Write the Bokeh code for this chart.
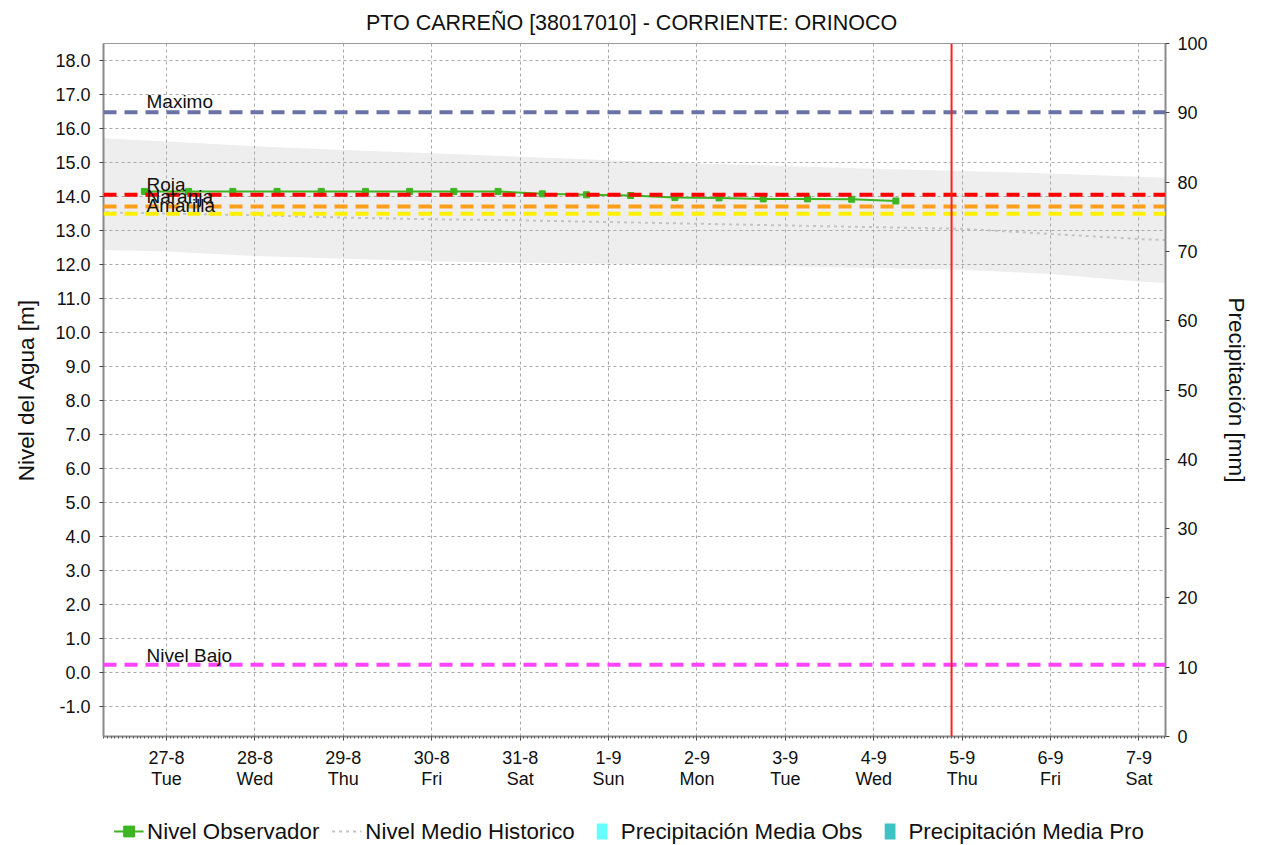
import math
from bokeh.plotting import figure
from bokeh.layouts import column
from bokeh.models import (Range1d, LinearAxis, FixedTicker, Span, Legend, LegendItem,
                          ColumnDataSource, NumeralTickFormatter, Label, Grid)
from bokeh.embed import file_html
from bokeh.resources import INLINE

TITULO = "PTO CARREÑO  [38017010] - CORRIENTE: ORINOCO"
FECHAS = ["27-8", "28-8", "29-8", "30-8", "31-8", "1-9", "2-9", "3-9", "4-9", "5-9", "6-9", "7-9"]
DIAS_SEMANA = ["Tue", "Wed", "Thu", "Fri", "Sat", "Sun", "Mon", "Tue", "Wed", "Thu", "Fri", "Sat"]

# time in days since 27-8 00:00
OBS_DIA = [-0.25, 0.25, 0.75, 1.25, 1.75, 2.25, 2.75, 3.25, 3.75, 4.25, 4.75, 5.25,
           5.75, 6.25, 6.75, 7.25, 7.75, 8.25]
OBS_NIVEL = [14.15, 14.15, 14.15, 14.15, 14.15, 14.15, 14.15, 14.15, 14.15, 14.08, 14.05, 14.03,
             13.97, 13.96, 13.93, 13.93, 13.92, 13.87]

HIST_DIA = [-1, 0, 1, 2, 3, 4, 5, 6, 7, 8, 9, 10, 11, 12]
HIST_MAX = [15.75, 15.62, 15.48, 15.37, 15.27, 15.17, 15.07, 14.97, 14.9, 14.82, 14.75, 14.68, 14.58, 14.5]
HIST_MIN = [12.45, 12.38, 12.25, 12.17, 12.1, 12.05, 12.02, 11.98, 11.95, 11.9, 11.85, 11.72, 11.5, 11.35]
HIST_MEDIO = [13.55, 13.5, 13.45, 13.38, 13.33, 13.3, 13.25, 13.2, 13.15, 13.1, 13.05, 12.9, 12.75, 12.65]

PRECIP_DIA = []
PRECIP_OBS = []
PRECIP_PRO = []

UMBRAL_NOMBRES = ["Maximo", "Roja", "Naranja", "Amarilla", "Nivel Bajo"]
UMBRAL_VALORES = [16.48, 14.05, 13.71, 13.49, 0.23]
UMBRAL_COLORES = ["#6b72a6", "#ff0000", "#ff9d1c", "#fff000", "#ff44ff"]

HOY = 8.88
X_RANGO = (-0.713, 11.30)
Y_RANGO = (-1.88, 18.5)
P_RANGO = (0, 100)

FONT = "Liberation Sans"
C_OBS = "#3cb521"
C_MEDIO = "#c4c4c4"
C_POBS = "#66ffff"
C_PPRO = "#3cc3c3"

p = figure(output_backend="svg", toolbar_location=None,
           x_range=Range1d(*X_RANGO), y_range=Range1d(*Y_RANGO),
           frame_width=1062, frame_height=693,
           min_border_left=103, min_border_right=92, min_border_top=43, min_border_bottom=81,
           x_axis_type=None, y_axis_type=None)
p.extra_y_ranges = {"precip": Range1d(*P_RANGO)}
p.background_fill_color = "white"
p.border_fill_color = "white"
p.outline_line_color = "#9a9a9a"
p.outline_line_width = 1

p.title.text = TITULO
p.title.align = "center"
p.title.text_font = FONT
p.title.text_font_size = "21.5px"
p.title.text_font_style = "normal"
p.title.text_color = "#111111"
p.title.standoff = 17

# axes
xticks = list(range(len(FECHAS)))
minor = [h / 24.0 for h in range(-24, 24 * 13)]
xaxis = LinearAxis(ticker=FixedTicker(ticks=xticks, minor_ticks=minor))
xaxis.major_label_overrides = {i: FECHAS[i] for i in xticks}
xaxis2 = LinearAxis(ticker=FixedTicker(ticks=xticks))
xaxis2.major_label_overrides = {i: DIAS_SEMANA[i] for i in xticks}

yaxis = LinearAxis(ticker=FixedTicker(ticks=list(range(-1, 19))),
                   formatter=NumeralTickFormatter(format="0.0"),
                   axis_label="Nivel del Agua [m]")
yaxis_r = LinearAxis(y_range_name="precip", ticker=FixedTicker(ticks=list(range(0, 101, 10))),
                     axis_label="Precipitación [mm]")

for ax in (xaxis, xaxis2, yaxis, yaxis_r):
    ax.major_label_text_font = FONT
    ax.major_label_text_font_size = "18px"
    ax.major_label_text_color = "#111111"
    ax.axis_line_color = "#8a8a8a"
    ax.axis_line_width = 2
    ax.major_tick_line_color = "#444444"
    ax.major_tick_in = 0
    ax.major_tick_out = 4
    ax.minor_tick_line_color = None
    ax.axis_label_text_font = FONT
    ax.axis_label_text_font_size = "22.5px"
    ax.axis_label_text_font_style = "normal"
    ax.axis_label_text_color = "#111111"

xaxis.minor_tick_line_color = "#555555"
xaxis.minor_tick_in = 0
xaxis.minor_tick_out = 2
xaxis.major_label_standoff = 10
xaxis2.axis_line_color = None
xaxis2.major_tick_line_color = None
xaxis2.major_tick_out = 0
xaxis2.major_label_standoff = 2
yaxis.major_label_standoff = 9
yaxis.axis_label_standoff = 13
yaxis_r.major_label_standoff = 8
yaxis_r.axis_label_standoff = 13

p.add_layout(xaxis, "below")
p.add_layout(xaxis2, "below")
p.add_layout(yaxis, "left")
p.add_layout(yaxis_r, "right")

gx = Grid(dimension=0, ticker=xaxis.ticker, grid_line_color="#a8a8a8", grid_line_dash="3 3", grid_line_width=1)
gy = Grid(dimension=1, ticker=yaxis.ticker, grid_line_color="#a8a8a8", grid_line_dash="3 3", grid_line_width=1)

# historic band
hist = ColumnDataSource(dict(x=HIST_DIA, lo=HIST_MIN, hi=HIST_MAX, mid=HIST_MEDIO))
band = p.varea(x="x", y1="lo", y2="hi", source=hist, fill_color="#eeeeee", level="image")
p.add_layout(gx)
p.add_layout(gy)

p.line("x", "mid", source=hist, line_color=C_MEDIO, line_width=2, line_dash="3 4")

# precipitation (no data in this period)
prec = ColumnDataSource(dict(x=PRECIP_DIA, obs=PRECIP_OBS, pro=PRECIP_PRO))
p.vbar(x="x", top="obs", width=0.4, source=prec, y_range_name="precip",
       fill_color=C_POBS, line_color=C_POBS)
p.vbar(x="x", top="pro", width=0.4, source=prec, y_range_name="precip",
       fill_color=C_PPRO, line_color=C_PPRO)

# thresholds
for nombre, val, col in zip(UMBRAL_NOMBRES, UMBRAL_VALORES, UMBRAL_COLORES):
    p.add_layout(Span(location=val, dimension="width", line_color=col, line_width=4,
                      line_dash="13 8"))

# observed
obs = ColumnDataSource(dict(x=OBS_DIA, y=OBS_NIVEL))
p.line("x", "y", source=obs, line_color=C_OBS, line_width=2)
p.scatter("x", "y", source=obs, marker="square", size=6, fill_color=C_OBS, line_color=C_OBS)

p.add_layout(Span(location=HOY, dimension="height", line_color="#ff2020", line_width=2))

OFFS = [11, 10, 10, 8, 9]
for nombre, val, off in zip(UMBRAL_NOMBRES, UMBRAL_VALORES, OFFS):
    p.add_layout(Label(x=X_RANGO[0], y=val, text=nombre, x_offset=43, y_offset=off,
                       text_font=FONT, text_font_size="19px", text_color="#111111",
                       text_baseline="alphabetic"))

# legend strip (separate figure under the chart); its glyph renderers reuse the
# observed series, which falls outside this strip's ranges, so only the legend shows
lf = figure(output_backend="svg", toolbar_location=None, frame_width=1257, frame_height=28,
            min_border_left=0, min_border_right=0, min_border_top=0, min_border_bottom=0,
            x_axis_type=None, y_axis_type=None, x_range=Range1d(100, 101), y_range=Range1d(100, 101))
lf.outline_line_color = None
lf.grid.visible = False
lf.background_fill_color = "white"
lf.border_fill_color = "white"
l_obs_l = lf.line("x", "y", source=obs, line_color=C_OBS, line_width=2)
l_obs_m = lf.scatter("x", "y", source=obs, marker="square", size=6, fill_color=C_OBS,
                     line_color=C_OBS)
l_medio = lf.line("x", "y", source=obs, line_color=C_MEDIO, line_width=2, line_dash="3 4")
l_pobs = lf.scatter("x", "y", source=obs, marker="dash", angle=math.pi / 2, size=27,
                    line_width=16, line_color=C_POBS)
l_ppro = lf.scatter("x", "y", source=obs, marker="dash", angle=math.pi / 2, size=27,
                    line_width=16, line_color=C_PPRO)

legend = Legend(items=[
    LegendItem(label="Nivel Observador", renderers=[l_obs_l, l_obs_m]),
    LegendItem(label="Nivel Medio Historico", renderers=[l_medio]),
    LegendItem(label="Precipitación Media Obs", renderers=[l_pobs]),
    LegendItem(label="Precipitación Media Pro", renderers=[l_ppro]),
], orientation="horizontal", location="center")
legend.label_text_font = FONT
legend.label_text_font_size = "22.3px"
legend.label_text_color = "#111111"
legend.glyph_width = 30
legend.glyph_height = 27
legend.label_standoff = 4
legend.spacing = 12
legend.padding = 0
legend.margin = 0
legend.border_line_color = None
legend.background_fill_alpha = 0
lf.add_layout(legend, "center")

layout = column(p, lf, spacing=0)
open("out.html", "w").write(file_html(layout, INLINE))
